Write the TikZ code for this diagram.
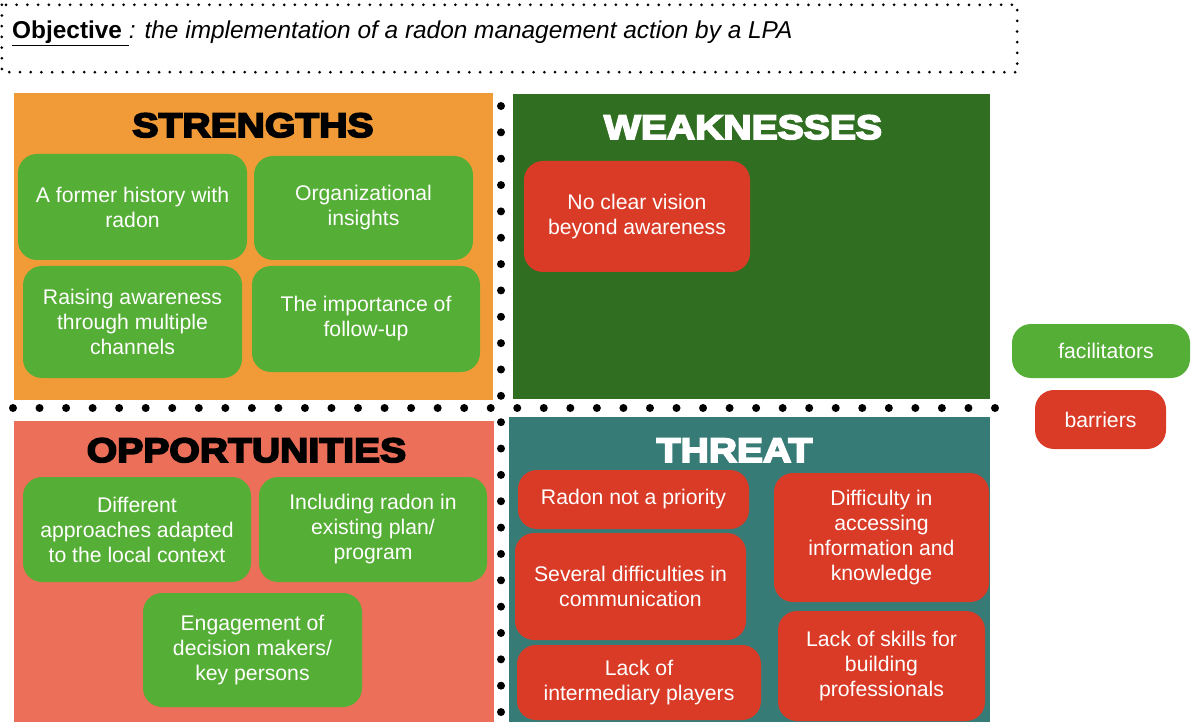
\documentclass[tikz,border=0pt]{standalone}
\usepackage{fontspec}
\setmainfont{Liberation Sans}
\newfontfamily\hdfont[FakeStretch=1.15]{Liberation Sans Bold}
\newcommand{\heavytxt}[1]{\special{pdf:literal direct 2 Tr 1.8 w}#1\special{pdf:literal direct 0 Tr 0.4 w}}
\definecolor{orangeS}{RGB}{241,155,56}
\definecolor{greenW}{RGB}{48,111,33}
\definecolor{salmonO}{RGB}{236,111,89}
\definecolor{tealT}{RGB}{55,123,119}
\definecolor{facG}{RGB}{85,174,54}
\definecolor{barR}{RGB}{217,59,39}
\begin{document}
\begin{tikzpicture}[x=1pt,y=-1pt,
  panel/.style={draw=none,inner sep=0pt,outer sep=0pt},
  card/.style={rounded corners=19pt,inner sep=0pt,align=center,text=white,
    font=\fontsize{21.2}{25}\selectfont},
  fac/.style={card,fill=facG},
  bar/.style={card,fill=barR},
  head/.style={anchor=base,inner sep=0pt,font={\hdfont\fontsize{34}{40}\selectfont}},
  bigdots/.style={line width=8pt,line cap=round,dash pattern=on 0pt off #1},
  smalldots/.style={line width=3pt,line cap=round,dash pattern=on 0pt off 10.7pt}
]
\useasboundingbox (0,0) rectangle (1192,722);

% objective box
\node[draw=none,minimum width=1015pt,minimum height=67pt,inner sep=0pt] (objbox) at (509.5,38.5) {};
\draw[smalldots] (objbox.north west) rectangle (objbox.south east);
\node[anchor=base west,inner sep=0pt,font=\fontsize{24.4}{28}\selectfont] (obj) at (12,38.5)
  {\underline{\textbf{Objective}\ }\textit{: the implementation of a radon management action by a LPA}};

% panels
\node[panel,fill=orangeS,minimum width=479pt,minimum height=307pt] (S) at (253.5,246.5) {};
\node[panel,fill=greenW,minimum width=477pt,minimum height=305pt] (W) at (751.5,246.5) {};
\node[panel,fill=salmonO,minimum width=480pt,minimum height=301pt] (O) at (254,571.5) {};
\node[panel,fill=tealT,minimum width=481pt,minimum height=305pt] (T) at (749.5,569.5) {};

% dotted dividers
\coordinate (vtop) at (501,106);
\coordinate (vbot) at (501,713);
\coordinate (hl) at (13,408);
\coordinate (hr) at (995,408);
\draw[bigdots=26.35pt] (vtop) -- (vbot);
\draw[bigdots=26.54pt] (hl) -- (hr);

% headers
\node[head,text=black] (hS) at (253,137) {\heavytxt{STRENGTHS}};
\node[head,text=white] (hW) at (743,139) {\heavytxt{WEAKNESSES}};
\node[head,text=black] (hO) at (246.5,462) {\heavytxt{OPPORTUNITIES}};
\node[head,text=white] (hT) at (734.5,462) {\heavytxt{THREAT}};

% strengths
\node[fac,minimum width=229pt,minimum height=106pt] (s1) at (132.5,207) {A former history with\\radon};
\node[fac,minimum width=219pt,minimum height=104pt] (s2) at (363.5,208) {Organizational\\insights};
\node[fac,minimum width=219pt,minimum height=112pt] (s3) at (132.5,322) {Raising awareness\\through multiple\\channels};
\node[fac,minimum width=228pt,minimum height=106pt] (s4) at (366,319) {The importance of\\follow-up};

% weaknesses
\node[bar,minimum width=226pt,minimum height=111pt] (w1) at (637,216.5) {No clear vision\\beyond awareness};

% opportunities
\node[fac,minimum width=228pt,minimum height=105pt] (o1) at (137,529.5) {Different\\approaches adapted\\to the local context};
\node[fac,minimum width=228pt,minimum height=105pt] (o2) at (373,529.5) {Including radon in\\existing plan/\\program};
\node[fac,minimum width=219pt,minimum height=114pt] (o3) at (252.5,650) {Engagement of\\decision makers/\\key persons};

% threats
\node[bar,minimum width=231pt,minimum height=59pt] (t1) at (633.5,499.5) {Radon not a priority};
\node[bar,minimum width=231pt,minimum height=107pt] (t2) at (630.5,586.5) {Several difficulties in\\communication};
\node[bar,minimum width=244pt,minimum height=75pt] (t3) at (639,682.5) {Lack of\\intermediary players};
\node[bar,minimum width=215pt,minimum height=129pt] (t4) at (881.5,537.5) {Difficulty in\\accessing\\information and\\knowledge};
\node[bar,minimum width=207pt,minimum height=110pt] (t5) at (881.5,666) {Lack of skills for\\building\\professionals};

% legend
\node[fac,minimum width=178pt,minimum height=54pt] (lf) at (1101,351) {\hspace*{10pt}facilitators};
\node[bar,minimum width=131pt,minimum height=59pt] (lb) at (1100.5,419.5) {barriers};
\end{tikzpicture}
\end{document}
